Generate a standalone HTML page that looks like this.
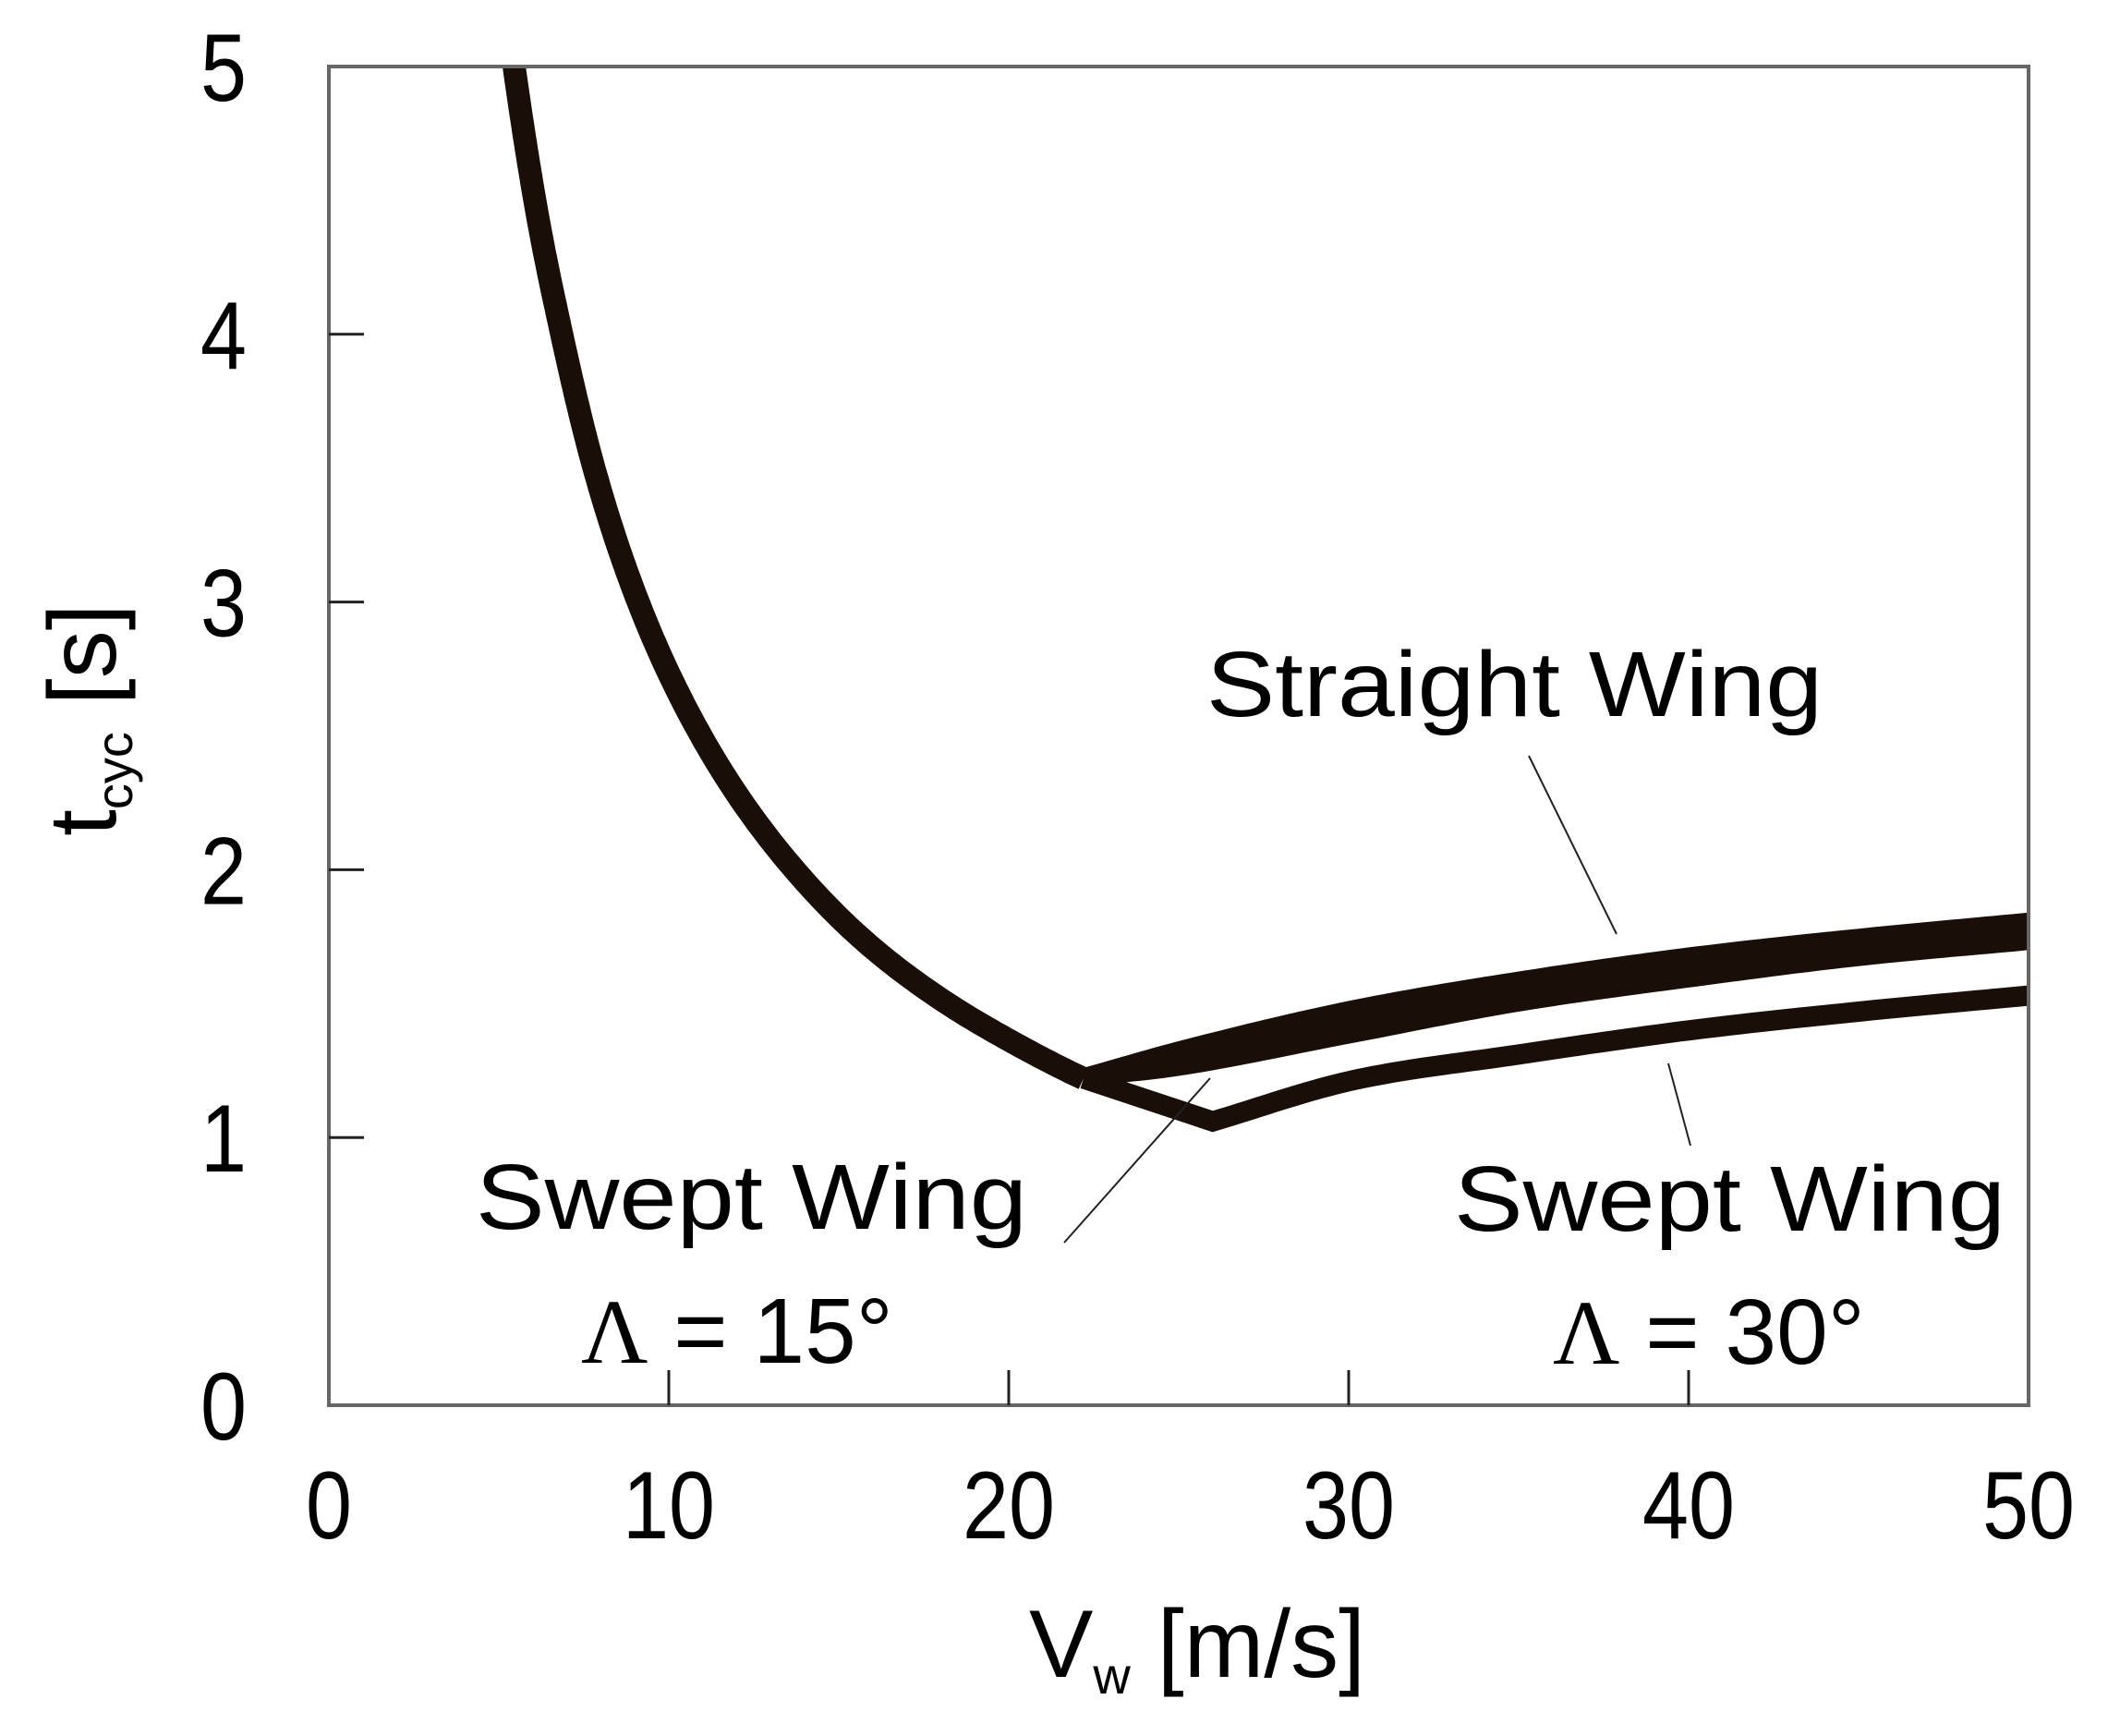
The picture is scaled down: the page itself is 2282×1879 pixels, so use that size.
<!DOCTYPE html>
<html><head><meta charset="utf-8"><style>
html,body{margin:0;padding:0;background:#fff;}
svg{display:block;}
text{font-family:"Liberation Sans",sans-serif;fill:#000;}
</style></head><body>
<svg id="chart" width="2282" height="1879" viewBox="0 0 2282 1879" xmlns="http://www.w3.org/2000/svg">
<rect x="0" y="0" width="2282" height="1879" fill="#fff"/>
<g id="marks"></g>
<g id="axes"></g>
</svg>
<script>
const xTicks = [0, 10, 20, 30, 40, 50];
const yTicks = [0, 1, 2, 3, 4, 5];
const mainV = [5.45, 6.2, 6.85, 7.8, 9.1, 10.95, 13.7, 15.7, 18.2, 20.2, 22.2];
const mainT = [5.0, 4.4, 4.0, 3.5, 3.0, 2.5, 2.0, 1.74, 1.5, 1.35, 1.22];
const straightV = [22.2, 25, 30, 35, 40, 45, 50];
const straightUpper = [1.26, 1.36, 1.51, 1.62, 1.71, 1.78, 1.84];
const straightLower = [1.19, 1.23, 1.35, 1.47, 1.56, 1.64, 1.70];
const swept30V = [22.2, 26.0, 30, 35, 40, 45, 50];
const swept30T = [1.22, 1.06, 1.21, 1.31, 1.40, 1.47, 1.53];

const X0 = 356, X1 = 2196, Y0 = 1521, Y1 = 72;
function sx(v){ return X0 + (v - 0) / 50 * (X1 - X0); }
function sy(t){ return Y0 - (t - 0) / 5 * (Y0 - Y1); }
const NS = "http://www.w3.org/2000/svg";
function mk(tag, attrs, parent){
  const e = document.createElementNS(NS, tag);
  for (const k in attrs) e.setAttribute(k, attrs[k]);
  parent.appendChild(e); return e;
}
function monotone(V, T, steps, fx, fy, ix, iy){
  fx = fx || (a=>a); fy = fy || (a=>a); ix = ix || (a=>a); iy = iy || (a=>a);
  const X = V.map(fx), Y = T.map(fy);
  const n = X.length, d = [], m = [];
  for (let i = 0; i < n-1; i++) d.push((Y[i+1]-Y[i])/(X[i+1]-X[i]));
  m.push(d[0]);
  for (let i = 1; i < n-1; i++) m.push(d[i-1]*d[i] <= 0 ? 0 : (d[i-1]+d[i])/2);
  m.push(d[n-2]);
  for (let i = 0; i < n-1; i++){
    if (d[i] === 0){ m[i]=0; m[i+1]=0; continue; }
    const a = m[i]/d[i], b = m[i+1]/d[i], s = a*a+b*b;
    if (s > 9){ const t = 3/Math.sqrt(s); m[i]=t*a*d[i]; m[i+1]=t*b*d[i]; }
  }
  const out = [];
  for (let i = 0; i < n-1; i++){
    const h = X[i+1]-X[i];
    for (let k = 0; k < steps; k++){
      const t = k/steps, t2=t*t, t3=t2*t;
      const y = (2*t3-3*t2+1)*Y[i] + (t3-2*t2+t)*h*m[i] + (-2*t3+3*t2)*Y[i+1] + (t3-t2)*h*m[i+1];
      out.push([sx(ix(X[i]+t*h)), sy(iy(y))]);
    }
  }
  out.push([sx(V[n-1]), sy(T[n-1])]);
  return out;
}
function toPath(p){ return p.map((q,i)=>(i?'L':'M')+q[0].toFixed(1)+','+q[1].toFixed(1)).join(' '); }
const marks = document.getElementById('marks');
const axes = document.getElementById('axes');

const up = monotone(straightV, straightUpper, 20);
const lo = monotone(straightV, straightLower, 20).reverse();
const band = mk('path', {d: toPath(up.concat(lo)) + ' Z', fill: '#1a0f08'}, marks);



const mainPts = monotone(mainV, mainT, 24, Math.log, Math.log, Math.exp, Math.exp);
const main = mk('path', {d: toPath(mainPts), fill:'none', stroke:'#1a0f08', 'stroke-width':25, 'stroke-linejoin':'round'}, marks);



const sp = [[sx(swept30V[0]), sy(swept30T[0])]].concat(monotone(swept30V.slice(1), swept30T.slice(1), 20));
const sw = mk('path', {d: toPath(sp), fill:'none', stroke:'#1a0f08', 'stroke-width':22, 'stroke-linejoin':'miter'}, marks);



const cp = mk('clipPath', {id:'clip'}, document.getElementById('chart'));
mk('rect', {x:X0, y:Y1, width:X1-X0, height:Y0-Y1}, cp);
marks.setAttribute('clip-path','url(#clip)');

const frame = mk('rect', {x:X0, y:Y1, width:X1-X0, height:Y0-Y1, fill:'none', stroke:'#666', 'stroke-width':4}, axes);



xTicks.forEach(v=>{
  if (v>0 && v<50){
    const t = mk('line', {x1:sx(v), x2:sx(v), y1:Y0, y2:Y0-38, stroke:'#222', 'stroke-width':3}, axes);
    
    
  }
  const s = String(v);
  const lb = mk('text', {x:sx(v), y:1665, 'font-size':104, 'text-anchor':'middle', textLength: s.length*50, lengthAdjust:'spacingAndGlyphs'}, axes);
  lb.textContent = s;
  
  
});
yTicks.forEach(v=>{
  if (v>0 && v<5){
    const t = mk('line', {x1:X0, x2:X0+38, y1:sy(v), y2:sy(v), stroke:'#222', 'stroke-width':3}, axes);
    
    
  }
  const lb = mk('text', {x:267, y:sy(v)+37, 'font-size':104, 'text-anchor':'end', textLength:50, lengthAdjust:'spacingAndGlyphs'}, axes);
  lb.textContent = String(v);
  
  
});
</script>
<svg style="position:absolute;left:0;top:0" width="2282" height="1879">
<text x="1114" y="1815" font-size="104" font-family="Liberation Sans, sans-serif">V<tspan font-size="56" dy="18">w</tspan><tspan dy="-18"> [m/s]</tspan></text>
<text transform="translate(125,905) rotate(-90)" font-size="104" font-family="Liberation Sans, sans-serif">t<tspan font-size="56" dy="18">cyc</tspan><tspan dy="-18"> [s]</tspan></text>
<text x="1306" y="775" font-size="100" textLength="667" lengthAdjust="spacingAndGlyphs" font-family="Liberation Sans, sans-serif">Straight Wing</text>
<text x="515" y="1330" font-size="100" textLength="597" lengthAdjust="spacingAndGlyphs" font-family="Liberation Sans, sans-serif">Swept Wing</text>
<text x="629" y="1475" font-size="100" font-family="Liberation Sans, sans-serif"><tspan font-family="Liberation Serif, serif">Λ</tspan> = 15°</text>
<text x="1574" y="1332" font-size="100" textLength="597" lengthAdjust="spacingAndGlyphs" font-family="Liberation Sans, sans-serif">Swept Wing</text>
<text x="1681" y="1476" font-size="100" font-family="Liberation Sans, sans-serif"><tspan font-family="Liberation Serif, serif">Λ</tspan> = 30°</text>
<line x1="1655" y1="818" x2="1750" y2="1011" stroke="#222" stroke-width="2"/>
<line x1="1806" y1="1151" x2="1830" y2="1240" stroke="#222" stroke-width="2"/>
<line x1="1152" y1="1345" x2="1310" y2="1167" stroke="#222" stroke-width="2"/>
</svg>
</body></html>
